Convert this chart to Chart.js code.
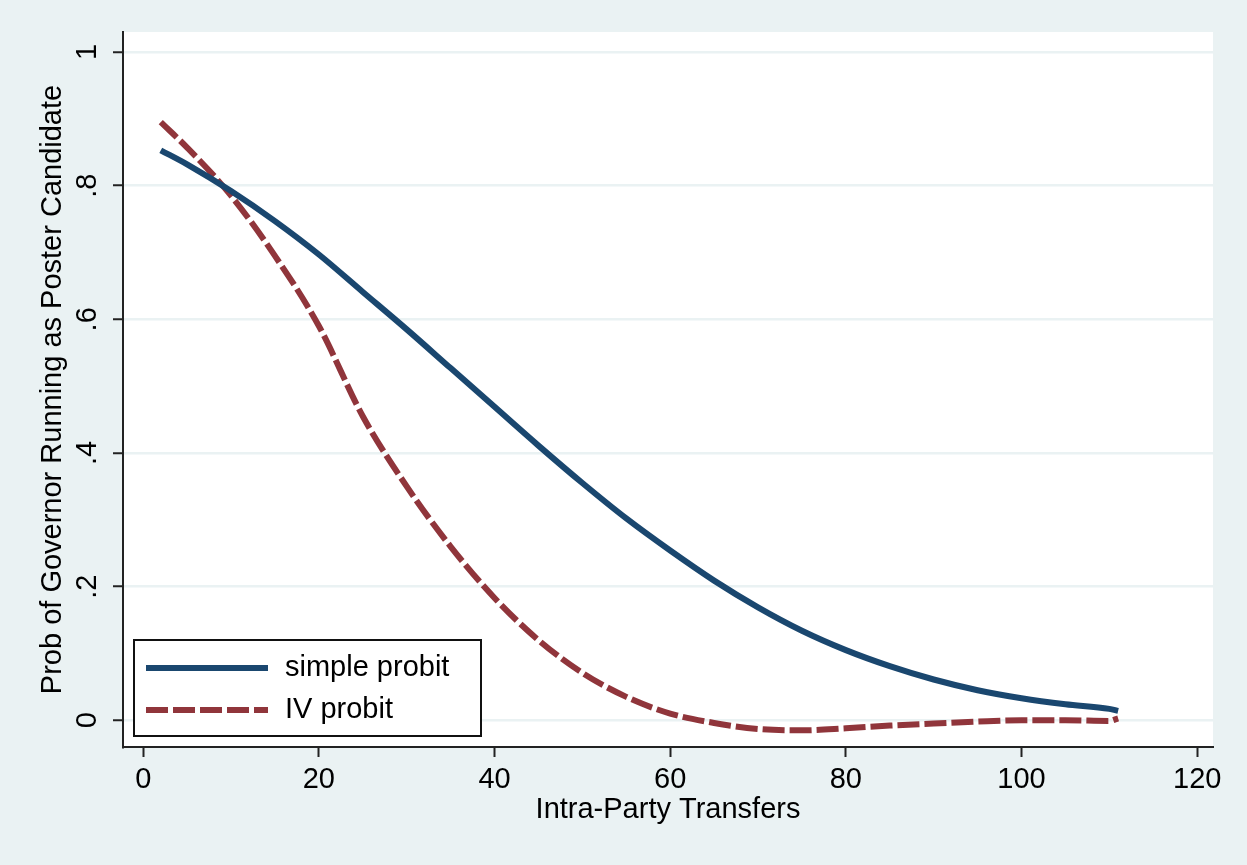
<!DOCTYPE html>
<html>
<head>
<meta charset="utf-8">
<title>Prob of Governor Running as Poster Candidate</title>
<script src="https://cdn.jsdelivr.net/npm/chart.js@4.4.1/dist/chart.umd.min.js"></script>
<style>
  html, body { margin: 0; padding: 0; background: #eaf2f3; }
  canvas { display: block; }
</style>
</head>
<body>
<canvas id="probChart" width="1247" height="865"></canvas>
<script>
// values
var transfers = [2, 5, 10, 15, 20, 25, 30, 35, 40, 45, 50, 55, 60, 65, 70, 75, 80, 85, 90, 95, 100, 105, 110, 111];
var simpleProbit = [0.853, 0.832, 0.792, 0.747, 0.697, 0.641, 0.585, 0.527, 0.469, 0.411, 0.355, 0.302, 0.254, 0.209, 0.169, 0.134, 0.105, 0.081, 0.061, 0.045, 0.033, 0.024, 0.017, 0.014];
var ivProbit = [0.895, 0.857, 0.785, 0.695, 0.59, 0.455, 0.35, 0.26, 0.183, 0.12, 0.071, 0.035, 0.01, -0.004, -0.013, -0.015, -0.012, -0.008, -0.005, -0.002, 0.0, 0.0, -0.001, 0.003];
var seriesNames = ['simple probit', 'IV probit'];
var xTicks = [0, 20, 40, 60, 80, 100, 120];
var yTicks = [0, 0.2, 0.4, 0.6, 0.8, 1];
var yTickLabels = ['0', '.2', '.4', '.6', '.8', '1'];

var fontFamily = '"Liberation Sans", Arial, Helvetica, sans-serif';
Chart.defaults.font.family = fontFamily;
Chart.defaults.color = '#000';

function toPoints(ys) {
    return transfers.map(function(x, i) { return { x: x, y: ys[i] }; });
}

// white plot region like Stata
var plotRegion = {
    id: 'plotRegion',
    beforeDraw: function(chart) {
        var a = chart.chartArea, ctx = chart.ctx;
        ctx.save();
        ctx.fillStyle = '#ffffff';
        ctx.fillRect(a.left, a.top, a.right - a.left, a.bottom - a.top);
        ctx.restore();
    }
};

// legend box inside the plot, bottom left
var insetLegend = {
    id: 'insetLegend',
    afterDraw: function(chart) {
        var a = chart.chartArea, ctx = chart.ctx;
        var x0 = a.left + 11, y0 = a.bottom - 107, w = 347, h = 96;
        ctx.save();
        ctx.fillStyle = '#ffffff';
        ctx.fillRect(x0, y0, w, h);
        ctx.strokeStyle = '#111';
        ctx.lineWidth = 2;
        ctx.strokeRect(x0, y0, w, h);
        chart.data.datasets.forEach(function(ds, i) {
            var ly = y0 + 28 + i * 42;
            ctx.beginPath();
            ctx.setLineDash(ds.borderDash || []);
            ctx.strokeStyle = ds.borderColor;
            ctx.lineWidth = ds.borderWidth;
            ctx.moveTo(x0 + 12, ly);
            ctx.lineTo(x0 + 134, ly);
            ctx.stroke();
            ctx.setLineDash([]);
            ctx.fillStyle = '#000';
            ctx.font = '29px ' + fontFamily;
            ctx.textBaseline = 'middle';
            ctx.textAlign = 'left';
            ctx.fillText(ds.label, x0 + 151, ly);
        });
        ctx.restore();
    }
};

var ctx = document.getElementById('probChart').getContext('2d');
var probChart = new Chart(ctx, {
    type: 'line',
    data: {
        datasets: [
            {
                label: seriesNames[0],
                data: toPoints(simpleProbit),
                borderColor: '#1a476f',
                borderWidth: 6,
                pointRadius: 0,
                fill: false,
                cubicInterpolationMode: 'monotone'
            },
            {
                label: seriesNames[1],
                data: toPoints(ivProbit),
                borderColor: '#90353b',
                borderWidth: 6,
                borderDash: [22, 5],
                pointRadius: 0,
                fill: false,
                cubicInterpolationMode: 'monotone'
            }
        ]
    },
    options: {
        responsive: false,
        animation: false,
        layout: { padding: { left: 0, right: 34, top: 32, bottom: 37.6 } },
        plugins: {
            legend: { display: false },
            tooltip: { enabled: false }
        },
        scales: {
            x: {
                type: 'linear',
                min: -2.3,
                max: 121.8,
                afterBuildTicks: function(s) { s.ticks = xTicks.map(function(v) { return { value: v }; }); },
                afterFit: function(s) { s.height = 80.4; },
                grid: { drawOnChartArea: false, drawTicks: true, tickLength: 10, tickColor: '#222', tickWidth: 2 },
                border: { display: true, color: '#222', width: 2 },
                ticks: { font: { size: 29 }, color: '#000', padding: 6, maxRotation: 0, autoSkip: false },
                title: { display: true, text: 'Intra-Party Transfers', font: { size: 29 }, color: '#000', padding: 0 }
            },
            y: {
                type: 'linear',
                min: -0.04,
                max: 1.03,
                afterBuildTicks: function(s) { s.ticks = yTicks.map(function(v) { return { value: v }; }); },
                afterFit: function(s) { s.width = 123; },
                grid: { color: '#eaf2f3', lineWidth: 2.5, tickColor: '#222', tickLength: 10, tickWidth: 2 },
                border: { display: true, color: '#222', width: 2 },
                ticks: {
                    font: { size: 29 },
                    color: '#000',
                    minRotation: 90,
                    maxRotation: 90,
                    crossAlign: 'center',
                    padding: 13,
                    callback: function(v) { return yTickLabels[yTicks.indexOf(v)]; }
                },
                title: {
                    display: true,
                    text: 'Prob of Governor Running as Poster Candidate',
                    font: { size: 29 },
                    color: '#000',
                    padding: { top: 35.6, bottom: 0 }
                }
            }
        }
    },
    plugins: [plotRegion, insetLegend]
});
</script>
</body>
</html>
